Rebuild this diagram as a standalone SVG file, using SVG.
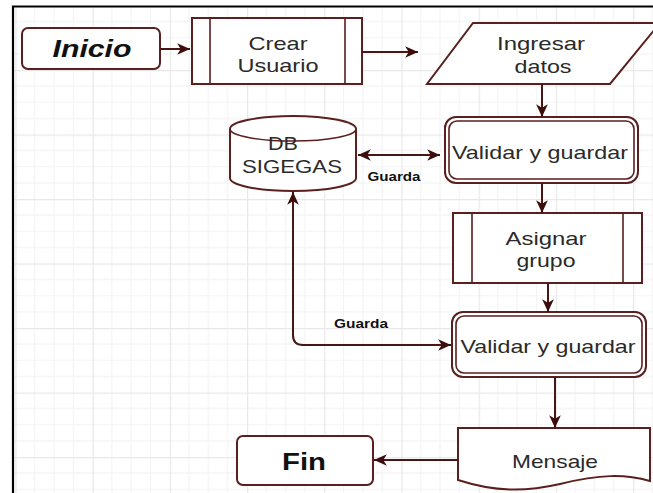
<svg xmlns="http://www.w3.org/2000/svg" width="653" height="493" viewBox="0 0 653 493">
<defs>
<pattern id="grid" patternUnits="userSpaceOnUse" x="15.4" y="5.5" width="77.2" height="64.5">
<path d="M19.3,0V64.5M38.6,0V64.5M57.9,0V64.5M0,16.1H77.2M0,32.25H77.2M0,48.4H77.2" stroke="#f4f4f4" stroke-width="1.2" fill="none"/>
<path d="M0.5,0V64.5M0,0.5H77.2" stroke="#e8e8e8" stroke-width="1.4" fill="none"/>
</pattern>
<marker id="ah" markerUnits="userSpaceOnUse" markerWidth="14" markerHeight="14" viewBox="0 0 12 12" refX="11" refY="6" orient="auto-start-reverse">
<path d="M0,1 L11,6 L0,11 L3,6 Z" fill="#3d0d0d"/>
</marker>
<style>
.shape{fill:#fff;stroke:#5a1f1f;stroke-width:2}
.thin{fill:none;stroke:#5a1f1f;stroke-width:1.6}
.conn path{fill:none;stroke:#4a1515;stroke-width:2;marker-end:url(#ah)}
text{font-family:"Liberation Sans",Arial,sans-serif;fill:#2a2a2a;text-anchor:middle}
.lbl{font-size:19px}
.small{font-size:12px;font-weight:bold;fill:#111}
</style>
</defs>
<rect width="653" height="493" fill="#fff"/>
<rect x="13" y="6" width="640" height="487" fill="url(#grid)"/>
<path d="M13,493V6.5H653" fill="none" stroke="#000" stroke-width="2.2"/>

<g id="inicio">
<rect class="shape" x="22" y="28" width="138" height="41" rx="6"/>
<text x="92" y="57" font-size="24" font-weight="bold" font-style="italic" textLength="79" lengthAdjust="spacingAndGlyphs" style="fill:#111">Inicio</text>
</g>

<g id="crear">
<rect class="shape" x="192" y="18" width="170" height="66"/>
<path class="thin" d="M210,18V84M345,18V84"/>
<text class="lbl" x="278" y="50" textLength="59" lengthAdjust="spacingAndGlyphs">Crear</text>
<text class="lbl" x="278" y="72" textLength="81" lengthAdjust="spacingAndGlyphs">Usuario</text>
</g>

<g id="ingresar">
<path class="shape" d="M473,23 H660 L610,84 H427 Z"/>
<text class="lbl" x="541" y="50" textLength="88" lengthAdjust="spacingAndGlyphs">Ingresar</text>
<text class="lbl" x="543" y="73" textLength="57" lengthAdjust="spacingAndGlyphs">datos</text>
</g>

<g id="validar1">
<rect class="shape" x="445" y="117" width="193" height="66" rx="11"/>
<rect class="thin" x="449" y="121" width="185" height="58" rx="8"/>
<text class="lbl" x="540" y="159" textLength="176" lengthAdjust="spacingAndGlyphs">Validar y guardar</text>
</g>

<g id="db">
<path class="shape" d="M230,129 V178 A63,13 0 0 0 356,178 V129 A63,13 0 0 0 230,129 Z"/>
<path class="thin" d="M230,129 A63,12 0 0 0 356,129"/>
<text class="lbl" x="283" y="150" textLength="30" lengthAdjust="spacingAndGlyphs">DB</text>
<text class="lbl" x="292" y="173" textLength="100" lengthAdjust="spacingAndGlyphs">SIGEGAS</text>
</g>

<g id="asignar">
<rect class="shape" x="453" y="213" width="189" height="70"/>
<path class="thin" d="M472,213V283M623,213V283"/>
<text class="lbl" x="546" y="245" textLength="81" lengthAdjust="spacingAndGlyphs">Asignar</text>
<text class="lbl" x="546" y="267" textLength="59" lengthAdjust="spacingAndGlyphs">grupo</text>
</g>

<g id="validar2">
<rect class="shape" x="452" y="312" width="194" height="65" rx="11"/>
<rect class="thin" x="456" y="316" width="186" height="57" rx="8"/>
<text class="lbl" x="548" y="353" textLength="175" lengthAdjust="spacingAndGlyphs">Validar y guardar</text>
</g>

<g id="mensaje">
<path class="shape" d="M458,428 H650 V481 C625,474 600,474 560,484 C525,492 495,492 458,480 Z"/>
<text class="lbl" x="555" y="468" textLength="86" lengthAdjust="spacingAndGlyphs">Mensaje</text>
</g>

<g id="fin">
<rect class="shape" x="237" y="436" width="136" height="49" rx="6"/>
<text x="304" y="470" font-size="24" font-weight="bold" textLength="44" lengthAdjust="spacingAndGlyphs" style="fill:#111">Fin</text>
</g>

<g id="connectors" class="conn">
<path d="M160,49 H190"/>
<path d="M362,52 H418"/>
<path d="M542,84 V117"/>
<path d="M358,155 H440" style="marker-start:url(#ah)"/>
<path d="M542,183 V213"/>
<path d="M548,283 V312"/>
<path d="M293,192 V335 Q293,345 303,345 H451" style="marker-start:url(#ah)"/>
<path d="M555,377 V428"/>
<path d="M458,460 H374"/>
<text class="small" x="394" y="181" textLength="53" lengthAdjust="spacingAndGlyphs">Guarda</text>
<text class="small" x="361" y="328" textLength="54" lengthAdjust="spacingAndGlyphs">Guarda</text>
</g>
</svg>
